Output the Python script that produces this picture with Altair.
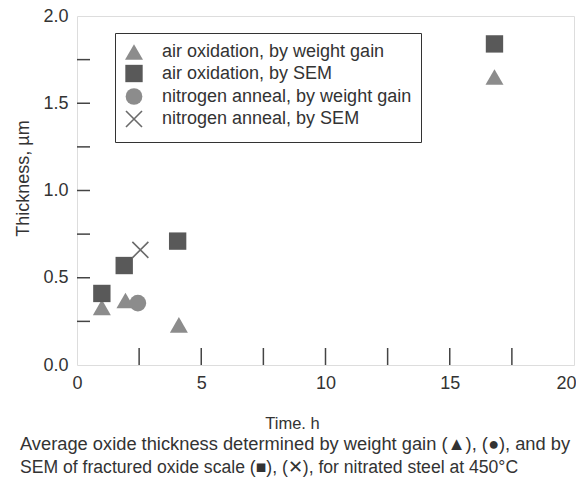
import altair as alt
import pandas as pd

series_names = [
    "air oxidation, by weight gain",
    "air oxidation, by SEM",
    "nitrogen anneal, by weight gain",
    "nitrogen anneal, by SEM",
]
tri_time = [1.0, 1.95, 4.1, 16.8]
tri_thick = [0.33, 0.37, 0.23, 1.65]
sq_time = [1.0, 1.9, 4.05, 16.8]
sq_thick = [0.41, 0.57, 0.71, 1.84]
circ_time = [2.45]
circ_thick = [0.355]
x_time = [2.55]
x_thick = [0.66]

x_tick_vals = [2.5, 5, 7.5, 10, 12.5, 15, 17.5]
y_tick_vals = [0.25, 0.5, 0.75, 1.0, 1.25, 1.5, 1.75]
x_label_vals = [0, 5, 10, 15, 20]
y_label_vals = [0.0, 0.5, 1.0, 1.5, 2.0]

caption_1 = "Average oxide thickness determined by weight gain (▲), (●), and by"
caption_2 = "SEM of fractured oxide scale (■), (✕), for nitrated steel at 450°C"

rows = []
for name, ts, vs in zip(series_names,
                        [tri_time, sq_time, circ_time, x_time],
                        [tri_thick, sq_thick, circ_thick, x_thick]):
    for t, v in zip(ts, vs):
        rows.append({"time": t, "thickness": v, "series": name})
df = pd.DataFrame(rows)

W, H = 497, 349
FONT = "Liberation Sans"
TXT = "#333333"
xscale = alt.Scale(domain=[0, 20], nice=False)
yscale = alt.Scale(domain=[0, 2], nice=False)

xmark = "M-1,-1L1,1M-1,1L1,-1"
shapes = ["triangle-up", "square", "circle", xmark]
fills = ["#8c8c8c", "#595959", "#8c8c8c", "transparent"]
strokes = ["transparent", "transparent", "transparent", "#6a6a6a"]
sizes = [324, 256, 256, 289]

leg = alt.Legend(title=" ", titleOrient="bottom", titleFontSize=3, titlePadding=0,
                 orient="none", legendX=38, legendY=17,
                 strokeColor="#333333", fillColor="white",
                 padding=9, symbolSize=300, labelFontSize=18,
                 labelFont=FONT, labelColor=TXT, labelOffset=18,
                 rowPadding=-2, symbolStrokeWidth=1.6, labelLimit=400)

points = alt.Chart(df).mark_point(filled=False, strokeWidth=1.6, opacity=1).encode(
    x=alt.X("time:Q", scale=xscale,
            axis=alt.Axis(title="Time. h", values=x_label_vals, ticks=False,
                          domain=False, grid=False, labelPadding=9,
                          labelAlign={"condition": {"test": "datum.value == 20", "value": "right"},
                                      "value": "center"},
                          labelOffset={"condition": {"test": "datum.value == 20", "value": 2},
                                       "value": 0},
                          titleX=215, titleAlign="center",
                          titlePadding=23, labelFontSize=18, titleFontSize=16.5,
                          labelColor=TXT, titleColor=TXT, labelFont=FONT,
                          titleFont=FONT, titleFontWeight="normal")),
    y=alt.Y("thickness:Q", scale=yscale,
            axis=alt.Axis(title="Thickness, µm", values=y_label_vals, format=".1f",
                          ticks=False, domain=False, grid=False, labelPadding=9,
                          titleY=162, titleAlign="center",
                          titlePadding=10, labelFontSize=18, titleFontSize=18,
                          labelColor=TXT, titleColor=TXT, labelFont=FONT,
                          titleFont=FONT, titleFontWeight="normal")),
    shape=alt.Shape("series:N", scale=alt.Scale(domain=series_names, range=shapes), legend=leg),
    fill=alt.Fill("series:N", scale=alt.Scale(domain=series_names, range=fills), legend=leg),
    stroke=alt.Stroke("series:N", scale=alt.Scale(domain=series_names, range=strokes), legend=leg),
    size=alt.Size("series:N", scale=alt.Scale(domain=series_names, range=sizes), legend=leg),
)

xticks = alt.Chart(pd.DataFrame({"time": x_tick_vals})).mark_rule(
    color="#444444", strokeWidth=1.5).encode(
    x=alt.X("time:Q", scale=xscale),
    y=alt.value(H), y2=alt.value(H - 17))

yticks = alt.Chart(pd.DataFrame({"thickness": y_tick_vals})).mark_rule(
    color="#444444", strokeWidth=1.5).encode(
    y=alt.Y("thickness:Q", scale=yscale),
    x=alt.value(0), x2=alt.value(13))

chart = alt.layer(xticks, yticks, points).properties(
    width=W, height=H,
    autosize=alt.AutoSizeParams(type="none"),
    padding={"left": 69, "top": 8, "right": 2, "bottom": 113},
    title=alt.TitleParams(
        text=caption_1, subtitle=caption_2,
        orient="bottom", anchor="start", frame="group", fontSize=18.3,
        font=FONT, fontWeight="normal", color=TXT,
        subtitleFont=FONT, subtitleFontSize=17.6, subtitleColor=TXT,
        subtitleFontWeight="normal", subtitlePadding=5,
        offset=4, dx=-57),
).configure_view(stroke="#444444", strokeWidth=1.5).configure(background="white")

chart.save("out.html", embed_options={"renderer": "svg", "actions": False})
